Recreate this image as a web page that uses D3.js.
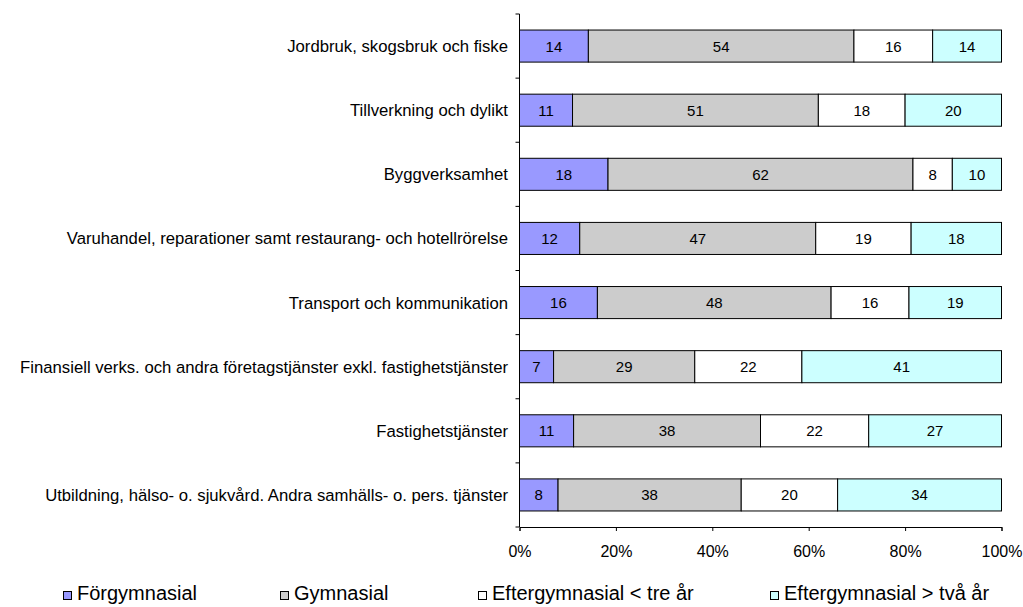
<!DOCTYPE html>
<html><head><meta charset="utf-8">
<script src="https://cdn.jsdelivr.net/npm/d3@7"></script>
<style>body{margin:0;background:#fff;} text{font-family:"Liberation Sans",Arial,sans-serif;}</style>
</head><body><svg id="c" width="1023" height="607"></svg>
<script>
const categories = [
  "Jordbruk, skogsbruk och fiske",
  "Tillverkning och dylikt",
  "Byggverksamhet",
  "Varuhandel, reparationer samt restaurang- och hotellrörelse",
  "Transport och kommunikation",
  "Finansiell verks. och andra företagstjänster exkl. fastighetstjänster",
  "Fastighetstjänster",
  "Utbildning, hälso- o. sjukvård. Andra samhälls- o. pers. tjänster"
];
const seriesNames = ["Förgymnasial","Gymnasial","Eftergymnasial < tre år","Eftergymnasial > två år"];
const forgymnasial = [14,11,18,12,16,7,11,8];
const gymnasial = [54,51,62,47,48,29,38,38];
const eftergymnasialKort = [16,18,8,19,16,22,22,20];
const eftergymnasialLang = [14,20,10,18,19,41,27,34];
const tickLabels = ["0%","20%","40%","60%","80%","100%"];
const colors = ["#9999FF","#CCCCCC","#FFFFFF","#CCFFFF"];

const seriesVals = [forgymnasial,gymnasial,eftergymnasialKort,eftergymnasialLang];
const rows = categories.map((c,i)=>{
  const o={cat:c}; seriesNames.forEach((s,j)=>o[s]=seriesVals[j][i]); return o;
});
const stacked = d3.stack().keys(seriesNames).offset(d3.stackOffsetExpand)(rows);

const svg = d3.select("#c");
const L=519.5, R=1001.5, T=14, B=527;
const x = d3.scaleLinear().domain([0,1]).range([L,R]);
const y = d3.scaleBand().domain(categories).range([T,B]).paddingInner(0.5).paddingOuter(0.25);

// bars
stacked.forEach((s,j)=>{
  const g=svg.append("g");
  g.selectAll("rect").data(s).join("rect")
   .attr("x",d=>x(d[0])).attr("width",d=>x(d[1])-x(d[0]))
   .attr("y",d=>y(d.data.cat)).attr("height",y.bandwidth())
   .attr("fill",colors[j]).attr("stroke","#000").attr("stroke-width",1);
  g.selectAll("text").data(s).join("text")
   .attr("x",d=>(x(d[0])+x(d[1]))/2).attr("y",d=>y(d.data.cat)+y.bandwidth()/2+5.5)
   .attr("text-anchor","middle")
   .attr("font-size",15).attr("fill","#000")
   .text(d=>d.data[seriesNames[j]]);
});

// y axis
svg.append("line").attr("x1",L).attr("x2",L).attr("y1",T).attr("y2",B).attr("stroke","#000");
const step = (B-T)/categories.length;
d3.range(categories.length+1).forEach(i=>{
  svg.append("line").attr("x1",L-4).attr("x2",L).attr("y1",T+i*step).attr("y2",T+i*step).attr("stroke","#000");
});
svg.append("g").selectAll("text").data(categories).join("text")
  .attr("x",508).attr("y",d=>y(d)+y.bandwidth()/2+6)
  .attr("text-anchor","end")
  .attr("font-size",16.7).text(d=>d);

// x axis
const xa = d3.axisBottom(x).tickValues(d3.range(0,1.01,0.2)).tickSize(4).tickFormat((d,i)=>tickLabels[i]);
const gx = svg.append("g").attr("transform",`translate(0,${B})`).call(xa);
gx.select(".domain").attr("stroke","#000");
gx.selectAll(".tick line").attr("stroke","#000");
gx.selectAll(".tick text").attr("font-size",16).attr("font-family","Liberation Sans, Arial, sans-serif").attr("fill","#000").attr("dy",0).attr("y",30);

// legend
const legX=[63,280,478,770];
const lg = svg.append("g").selectAll("g").data(seriesNames).join("g")
  .attr("transform",(d,i)=>`translate(${legX[i]},600)`);
lg.append("rect").attr("x",0.5).attr("y",-8.5).attr("width",8).attr("height",8)
  .attr("fill",(d,i)=>colors[i]).attr("stroke","#000").attr("stroke-width",1);
lg.append("text").attr("x",14).attr("y",0).attr("font-size",20).text(d=>d);
</script></body></html>
